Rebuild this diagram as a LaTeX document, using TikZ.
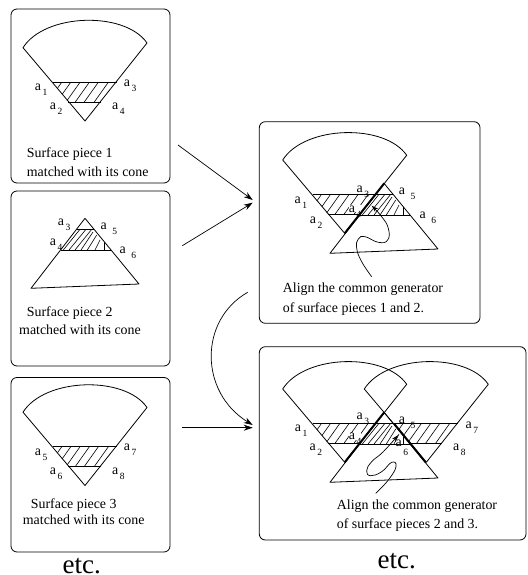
\documentclass[tikz,border=0pt]{standalone}
\usepackage{fontspec}
\setmainfont{Liberation Serif}
\usetikzlibrary{arrows.meta, positioning}

\newcommand{\subnum}[2]{\raisebox{-#2}[0pt][0pt]{\fontsize{9.5}{9.5}\selectfont #1}}
\newcommand{\gn}[1]{a\hspace{1.6pt}\subnum{#1}{5pt}}
\newcommand{\gnw}[1]{a\hspace{5.6pt}\subnum{#1}{5pt}}

\tikzset{
    panel/.style={rectangle, draw, rounded corners=6pt, line width=0.8pt},
    caption/.style={anchor=north west, inner sep=0pt, align=left, font=\fontsize{13.9}{18}\selectfont},
    etcnode/.style={anchor=base, inner sep=0pt, font=\fontsize{27}{27}\selectfont},
    lab/.style={anchor=base west, inner sep=0pt, font=\fontsize{13.9}{14}\selectfont},
    labw/.style={lab, fill=white},
    arrow/.style={-{Stealth[length=9pt, width=6pt]}, line width=0.7pt},
    squiggle/.style={-{Stealth[length=7pt, width=4.5pt]}, line width=0.7pt},
    hatch/.style={line width=0.6pt},
    generator/.style={line width=2pt},
    fan/.pic={
        % sector with its shaded band
        \draw[line width=0.8pt, line join=round] (23,47.7) .. controls (45,13) and (125,11) .. (147,43) -- (85,121) -- cycle;
        \begin{scope}
            \clip (53,82.3) -- (116.7,82.3) -- (101,102) -- (68,102) -- cycle;
            \foreach \x in {61.7,70.7,80,89.3,98.3,108.3}
                \draw[hatch] (\x,82.3) -- ({\x-14},102);
        \end{scope}
        \draw[line width=0.8pt] (53,82.3) -- (116.7,82.3) (68,102) -- (101,102);
    },
    tri/.pic={
        % cone piece with its shaded band
        \draw[line width=0.8pt, line join=round] (85,218.3) -- (31,288.3) -- (139,284) -- cycle;
        \begin{scope}
            \clip (76.5,229.3) -- (94,229.3) -- (111,250) -- (60.5,250) -- cycle;
            \foreach \a/\b/\c/\d in {63.3/250/80/229.3, 69/250/86/229.3, 75/250/91.7/229.3, 81/250/93/232, 87.3/250/96.7/235, 95/250/100/240, 104/250/104/241.7}
                \draw[hatch] (\a,\b) -- (\c,\d);
        \end{scope}
        \draw[line width=0.8pt] (76.5,229.3) -- (94,229.3) (60.5,250) -- (111,250);
    }
}

\begin{document}
\begin{tikzpicture}[x=1pt, y=-1pt]
    \useasboundingbox (0,0) rectangle (527,575);

    % Panels
    \node[panel, minimum width=159pt, minimum height=174pt] (piece1) at (90.5,96) {};
    \node[panel, minimum width=159pt, minimum height=175pt] (piece2) at (90.5,278.5) {};
    \node[panel, minimum width=159pt, minimum height=174.5pt] (piece3) at (90.5,464.75) {};
    \node[panel, minimum width=220.7pt, minimum height=201.6pt] (align12) at (369.65,222.5) {};
    \node[panel, minimum width=266.7pt, minimum height=193.3pt] (align23) at (392.65,443.35) {};

    % Surface pieces
    \pic at (0,0) {fan};
    \pic at (0,0) {tri};
    \pic at (0,364.5) {fan};
    \pic at (259.7,112.3) {fan};
    \pic at (299,-35) {tri};
    \pic at (259.7,341.3) {fan};
    \pic at (299,194) {tri};
    \pic at (341.3,341.3) {fan};

    % Common generators
    \coordinate (g1a) at (384.3,183.3);
    \coordinate (g1b) at (344.7,233.3);
    \coordinate (g2a) at (384.3,412.3);
    \coordinate (g2b) at (344.7,462.3);
    \coordinate (g3a) at (394.3,424);
    \coordinate (g3b) at (425.7,462.3);
    \draw[generator] (g1a) -- (g1b);
    \draw[generator] (g2a) -- (g2b);
    \draw[generator] (g3a) -- (g3b);

    % Labels
    \node[lab] (p1a1) at (34.7,90.3) {\gn{1}};
    \node[lab] (p1a2) at (49.7,109.7) {\gn{2}};
    \node[lab] (p1a3) at (123.7,87) {\gn{3}};
    \node[lab] (p1a4) at (112,109.7) {\gn{4}};

    \node[lab] (p2a3) at (57.7,225.7) {\gn{3}};
    \node[lab] (p2a4) at (49.7,245.3) {\gn{4}};
    \node[lab] (p2a5) at (100.3,229) {\gnw{5}};
    \node[lab] (p2a6) at (119.3,253) {\gnw{6}};

    \node[lab] (p3a5) at (34.7,455.3) {\gn{5}};
    \node[lab] (p3a6) at (49.7,474.7) {\gn{6}};
    \node[lab] (p3a7) at (123.7,450.3) {\gn{7}};
    \node[lab] (p3a8) at (112,474.7) {\gn{8}};

    \node[lab] (p4a1) at (294.3,203) {\gn{1}};
    \node[lab] (p4a2) at (309.7,223) {\gn{2}};
    \node[labw] (p4a3) at (356.3,192) {\gn{3}};
    \node[labw] (p4a4) at (348.7,212) {\gn{4}};
    \node[lab] (p4a5) at (398.7,194.7) {\gnw{5}};
    \node[lab] (p4a6) at (419.3,218) {\gnw{6}};

    \node[lab] (p5a1) at (294.7,431.3) {\gn{1}};
    \node[lab] (p5a2) at (309.3,450.7) {\gn{2}};
    \node[labw] (p5a3) at (356.3,419.7) {\gn{3}};
    \node[labw] (p5a4) at (348.7,439.7) {\gn{4}};
    \node[labw] (p5a5) at (398.7,423) {\gnw{5}};
    \node[lab] (p5a6) at (395.3,446.3) {a\hspace{1.6pt}\subnum{6}{9pt}};
    \node[lab] (p5a7) at (465.3,428) {\gn{7}};
    \node[lab] (p5a8) at (453,450.3) {\gn{8}};

    % Captions
    \node[caption] (cap1) at (26.7,147.5) {Surface piece 1\\[0.7pt]matched with its cone};
    \node[caption] (cap2) at (19,306.5) {\hspace*{7.7pt}Surface piece 2\\matched with its cone};
    \node[caption] (cap3) at (22.7,498.5) {\hspace*{8pt}Surface piece 3\\[-2pt]matched with its cone};
    \node[caption] (cap4) at (282.7,282.2) {Align the common generator\\[2pt]of surface pieces 1 and 2.};
    \node[caption] (cap5) at (336.7,499.8) {Align the common generator\\[1pt]of surface pieces 2 and 3.};

    \node[etcnode] (etc1) at (81.7,573.5) {etc.};
    \node[etcnode] (etc2) at (396.7,568.3) {etc.};

    % Arrows
    \coordinate (s1) at (178,145);
    \coordinate (s2) at (182.3,245.7);
    \coordinate (s3) at (247.7,292.3);
    \coordinate (s4) at (182.3,427.7);
    \coordinate (t1) at (252.7,200);
    \coordinate (t2) at (252.7,202.7);
    \coordinate (t3) at (252.7,425);
    \coordinate (t4) at (252.7,427.7);
    \draw[arrow] (s1) -- (t1);
    \draw[arrow] (s2) -- (t2);
    \draw[arrow] (s3) .. controls (199,320) and (199,392) .. (t3);
    \draw[arrow] (s4) -- (t4);

    % Pointers to the generators
    \draw[squiggle] plot[smooth, tension=0.8] coordinates {(371.7,276.7) (361.7,261.7) (356.7,248.3) (358.3,239) (365,236.7) (378.3,242.3) (387.7,240) (388.3,228.3) (381.7,216.7) (371.7,205.7)};
    \draw[squiggle] plot[smooth, tension=0.8] coordinates {(375.7,493.3) (388.3,480) (396,466.7) (391.7,462.3) (381.7,471.7) (370.7,475.7) (366.7,470.7) (371.7,461.7) (383.3,451.7) (398.3,435)};
\end{tikzpicture}
\end{document}
